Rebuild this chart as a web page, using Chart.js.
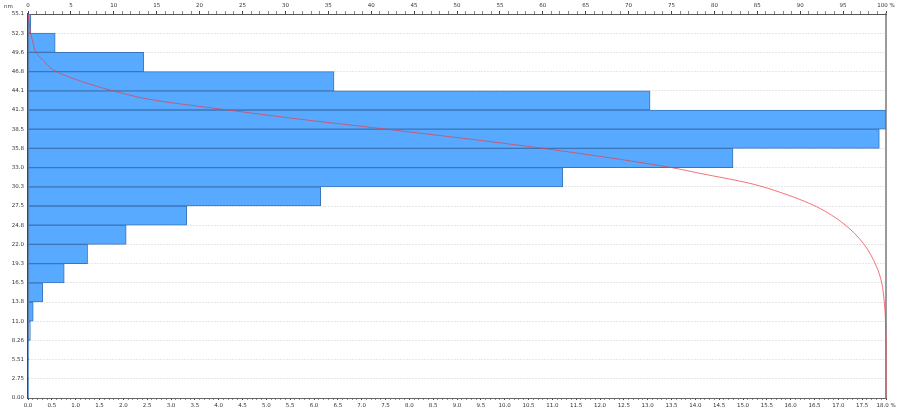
<!DOCTYPE html>
<html>
<head>
<meta charset="utf-8">
<script src="https://cdn.jsdelivr.net/npm/chart.js@4/dist/chart.umd.min.js"></script>
<style>
  html, body { margin: 0; padding: 0; background: #fff; }
  #wrap { width: 900px; height: 413px; position: relative; }
</style>
</head>
<body>
<div id="wrap"><canvas id="histChart"></canvas></div>
<script>
// Bin edges in nm, bottom to top, and how they are printed on the axis
const binEdges = [0, 2.755, 5.51, 8.265, 11.02, 13.775, 16.53, 19.285, 22.04, 24.795, 27.55,
                  30.305, 33.06, 35.815, 38.57, 41.325, 44.08, 46.835, 49.59, 52.345, 55.1];
const edgeLabels = ['0.00', '2.75', '5.51', '8.26', '11.0', '13.8', '16.5', '19.3', '22.0', '24.8', '27.5',
                    '30.3', '33.0', '35.8', '38.5', '41.3', '44.1', '46.8', '49.6', '52.3', '55.1'];

// Share of each bin in %, bottom to top (bottom axis, 0 - 18 %)
const binPercent = [0.005, 0.01, 0.02, 0.05, 0.11, 0.31, 0.76, 1.25, 2.06, 3.33,
                    6.14, 11.22, 14.79, 17.86, 17.99, 13.05, 6.42, 2.43, 0.57, 0.06];

// Cumulative curve (red line): size in nm -> cumulative % (top axis)
const cumNm  = [55.1, 54.24, 52.35, 51.37, 49.59, 48.5, 46.84, 45.16, 44.08, 42.76, 41.33, 40.0,
                38.57, 35.82, 33.06, 32.24, 30.81, 29.37, 27.45, 25.07, 22.2, 18.84, 16.53, 13.78,
                11.02, 5.51, 0];
const cumPct = [0, 0.1, 0.3, 0.5, 0.95, 1.7, 3.3, 6.9, 9.9, 14.6, 23.3, 31.7,
                41.8, 60.0, 75.0, 78.3, 84.1, 88.0, 91.9, 95.0, 97.35, 98.9, 99.5, 99.8,
                99.95, 100, 100];

const bars = binPercent.map((p, i) => ({ x: p, y: (binEdges[i] + binEdges[i + 1]) / 2 }));
const curve = cumNm.map((nm, i) => ({ x: cumPct[i], y: nm }));

Chart.defaults.font.family = 'DejaVu Sans';
Chart.defaults.color = '#333';
const tickFont = { family: 'DejaVu Sans', size: 5.5 };

function isHalfStep(v) {
  return Math.abs(v * 2 - Math.round(v * 2)) < 1e-6;
}

// small "nm" unit above the left axis
const unitLabel = {
  id: 'unitLabel',
  afterDraw(chart) {
    const c = chart.ctx;
    c.save();
    c.font = '5.5px "DejaVu Sans"';
    c.fillStyle = '#333';
    c.textBaseline = 'middle';
    c.fillText('nm', 4, 7);
    c.restore();
  }
};

const ctx = document.getElementById('histChart').getContext('2d');
new Chart(ctx, {
  type: 'bar',
  data: {
    datasets: [
      {
        type: 'line',
        indexAxis: 'y',
        data: curve,
        xAxisID: 'x2',
        yAxisID: 'y',
        borderColor: 'rgba(240, 60, 70, 0.72)',
        borderWidth: 1,
        pointRadius: 0,
        cubicInterpolationMode: 'monotone',
        fill: false,
        clip: false,
        order: 0
      },
      {
        type: 'bar',
        indexAxis: 'y',
        data: bars,
        xAxisID: 'x',
        yAxisID: 'y',
        backgroundColor: '#57aaff',
        borderColor: '#3b76b8',
        borderWidth: 1,
        borderSkipped: false,
        barPercentage: 1,
        categoryPercentage: 1,
        order: 1
      }
    ]
  },
  options: {
    indexAxis: 'y',
    responsive: true,
    maintainAspectRatio: false,
    animation: false,
    layout: { padding: 0 },
    plugins: {
      legend: { display: false },
      tooltip: { enabled: false }
    },
    scales: {
      y: {
        type: 'linear',
        position: 'left',
        min: 0,
        max: 55.1,
        offset: false,
        afterBuildTicks: scale => { scale.ticks = binEdges.map(v => ({ value: v })); },
        afterFit: scale => { scale.width = 28; },
        ticks: {
          font: tickFont,
          padding: 4,
          callback: (value, index) => edgeLabels[index]
        },
        grid: { color: '#cfcfcf', drawTicks: false, offset: false },
        border: { color: '#444', width: 1.5, dash: [1, 2] }
      },
      yR: {
        type: 'linear',
        position: 'right',
        min: 0,
        max: 55.1,
        afterFit: scale => { scale.width = 14; },
        ticks: { display: false },
        grid: { display: false },
        border: { color: '#9a9a9a', width: 2 }
      },
      x: {
        type: 'linear',
        position: 'bottom',
        min: 0,
        max: 18,
        afterFit: scale => { scale.height = 15; },
        ticks: {
          stepSize: 0.1,
          maxTicksLimit: 1000,
          autoSkip: false,
          maxRotation: 0,
          padding: 2,
          font: tickFont,
          callback: v => {
            if (!isHalfStep(v)) return '';
            return v >= 17.999 ? '18.0 %' : v.toFixed(1);
          }
        },
        grid: {
          drawOnChartArea: false,
          tickLength: 2,
          tickColor: c => isHalfStep(c.tick.value) ? '#444' : '#888'
        },
        border: { color: '#666', width: 1 }
      },
      x2: {
        type: 'linear',
        position: 'top',
        min: 0,
        max: 100,
        afterFit: scale => { scale.height = 14; },
        ticks: {
          stepSize: 1,
          maxTicksLimit: 1000,
          autoSkip: false,
          maxRotation: 0,
          padding: 2,
          font: tickFont,
          callback: v => {
            if (v % 5 !== 0) return '';
            return v === 100 ? '100 %' : String(v);
          }
        },
        grid: {
          drawOnChartArea: false,
          tickLength: 3,
          tickColor: c => c.tick.value % 5 === 0 ? '#444' : '#888'
        },
        border: { color: '#555', width: 1 }
      }
    }
  },
  plugins: [unitLabel]
});
</script>
</body>
</html>
